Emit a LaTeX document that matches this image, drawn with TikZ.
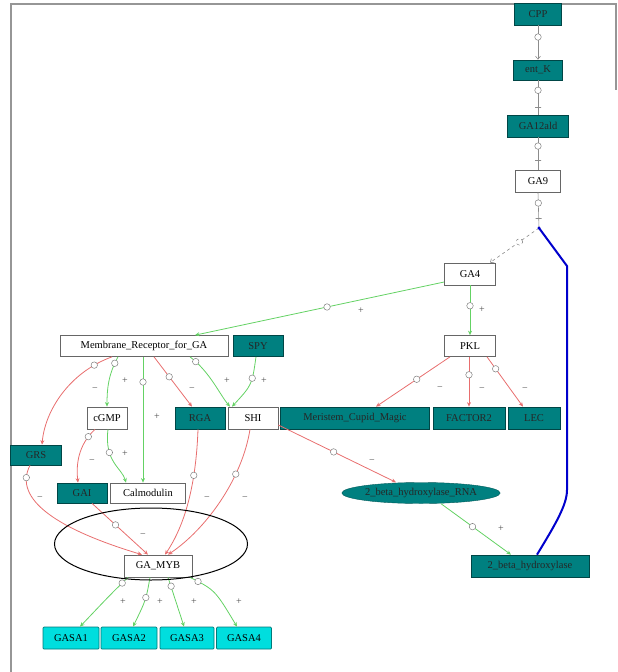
\documentclass[tikz,border=0pt]{standalone}
\usepackage{fontspec}
\setmainfont{Liberation Serif}
\usetikzlibrary{arrows.meta,shapes.geometric}
\definecolor{tealA}{RGB}{0,128,128}
\definecolor{cyA}{RGB}{0,222,222}
\definecolor{gA}{RGB}{100,210,100}
\definecolor{rA}{RGB}{232,110,110}
\definecolor{frameA}{RGB}{150,150,150}
\begin{document}
\begin{tikzpicture}[x=1pt,y=-1pt,
  box/.style={draw=black!60, line width=0.7pt, inner sep=0pt, minimum height=22pt,
    font=\fontsize{10.5}{12}\selectfont},
  wbox/.style={box, fill=white},
  tbox/.style={box, fill=tealA, draw=tealA!55!black, text=black!85},
  cbox/.style={box, fill=cyA, draw=cyA!55!black, rounded corners=1pt},
  ge/.style={draw=gA, line width=0.8pt, -{Stealth[length=4.5pt,width=4pt]}},
  re/.style={draw=rA, line width=0.8pt, -{Stealth[length=4.5pt,width=4pt]}},
  ye/.style={draw=black!45, line width=0.6pt},
  mk/.style={circle, draw=black!50, fill=white, minimum size=6.5pt, inner sep=0pt, line width=0.5pt},
  tick/.style={draw=black!45, minimum width=6pt, minimum height=0pt, inner sep=0pt, line width=0.5pt},
  sg/.style={font=\fontsize{10}{10}\selectfont, text=black!70, inner sep=0pt}]
\useasboundingbox (0,0) rectangle (618,672);
% window frame
\draw[frameA, line width=2pt] (11,672) -- (11,4) -- (616,4) -- (616,90);

% ---- nodes ----
\node[tbox, minimum width=47pt] (CPP) at (538,14) {CPP};
\node[tbox, minimum width=49pt, minimum height=20pt] (entK) at (538,70) {ent\_K};
\node[tbox, minimum width=61pt] (GA12) at (538,126) {GA12ald};
\node[wbox, minimum width=45pt] (GA9) at (538,181) {GA9};
\coordinate (J) at (539,228);
\node[wbox, minimum width=51pt] (GA4) at (470,274) {GA4};
\node[wbox, minimum width=51pt, minimum height=21pt] (PKL) at (470,346) {PKL};
\node[wbox, minimum width=168pt, minimum height=21pt] (MR) at (144,346) {Membrane\_Receptor\_for\_GA};
\node[tbox, minimum width=50pt, minimum height=21pt] (SPY) at (258,346) {SPY};
\node[wbox, minimum width=40pt] (cGMP) at (107,418) {cGMP};
\node[tbox, minimum width=50pt] (RGA) at (200,418) {RGA};
\node[wbox, minimum width=50pt] (SHI) at (253,418) {SHI};
\node[tbox, minimum width=149pt] (MCM) at (355,418) {Meristem\_Cupid\_Magic};
\node[tbox, minimum width=72pt] (FAC) at (469,418) {FACTOR2};
\node[tbox, minimum width=52pt] (LEC) at (534,418) {LEC};
\node[tbox, minimum width=51pt, minimum height=20pt] (GRS) at (36,455) {GRS};
\node[tbox, minimum width=50pt, minimum height=20pt] (GAI) at (82,493) {GAI};
\node[wbox, minimum width=75pt, minimum height=20pt] (CAL) at (148,493) {Calmodulin};
\node[ellipse, fill=tealA, draw=tealA!70!black, inner sep=0pt, minimum width=158pt, minimum height=21pt,
  text=black!85, font=\fontsize{10.5}{12}\selectfont] (RNA) at (421,493) {2\_beta\_hydroxylase\_RNA};
\node[tbox, minimum width=118pt] (B2H) at (530,566) {2\_beta\_hydroxylase};
\node[wbox, minimum width=68pt] (MYB) at (158,566) {GA\_MYB};
\node[cbox, minimum width=56pt] (S1) at (71,638) {GASA1};
\node[cbox, minimum width=56pt] (S2) at (129,638) {GASA2};
\node[cbox, minimum width=54pt] (S3) at (187,638) {GASA3};
\node[cbox, minimum width=55pt] (S4) at (244,638) {GASA4};

% ---- upper chain (gray) ----
\draw[ye, -{Straight Barb[length=3pt,width=5pt]}] (CPP.south) -- node[mk,pos=.34]{} (entK.north);
\draw[ye] (entK.south) -- node[mk,pos=.29]{} node[tick,pos=.77]{} (GA12.north);
\draw[ye] (GA12.south) -- node[mk,pos=.27]{} node[tick,pos=.7]{} (GA9.north);
\draw[ye] (GA9.south) -- node[mk,pos=.3]{} node[tick,pos=.72]{} (J);
\draw[ye, dashed, -{Straight Barb[length=3pt,width=5pt]}] (J) -- node[mk,pos=.4]{} ([xshift=20pt]GA4.north);
% blue feedback
\draw[blue!80!black, line width=2pt] ([xshift=7pt]B2H.north) .. controls (555,525) and (567,505) .. (567,490)
  -- (567,266) -- (J);
\fill[blue!80!black] (J) circle (1.6pt);

% ---- GA4 ----
\draw[ge] ([yshift=-8pt]GA4.west) -- node[mk,pos=.47]{} ([xshift=51pt]MR.north);
\node[sg] (l1) at (361,311) {+};
\draw[ge] (GA4.south) -- node[mk,pos=.41]{} (PKL.north);
\node[sg] (l2) at (482,310) {+};

% ---- PKL ----
\draw[re] ([xshift=-20pt]PKL.south) -- node[mk,pos=.45]{} ([xshift=21pt]MCM.north);
\node[sg] (l3) at (440,389) {−};
\draw[re] ([xshift=-1pt]PKL.south) -- node[mk,pos=.36]{} (FAC.north);
\node[sg] (l4) at (482,390) {−};
\draw[re] ([xshift=17pt]PKL.south) -- node[mk,pos=.24]{} ([xshift=-11pt]LEC.north);
\node[sg] (l5) at (525,390) {−};

% ---- Membrane receptor ----
\draw[re] ([xshift=-32pt]MR.south) .. controls (70,372) and (45,410) .. node[mk,pos=.15]{} ([xshift=6pt]GRS.north);
\node[sg] (l6) at (95,390) {−};
\draw[ge] ([xshift=-26pt]MR.south) .. controls (108,375) and (107,390) .. node[mk,pos=.12]{} (cGMP.north);
\node[sg] (l7) at (125,381) {+};
\draw[ge] ([xshift=-1pt]MR.south) -- node[mk,pos=.2]{} ([xshift=-5pt]CAL.north);
\node[sg] (l8) at (157,417) {+};
\draw[re] ([xshift=10pt]MR.south) -- node[mk,pos=.4]{} ([xshift=-8pt]RGA.north);
\node[sg] (l9) at (192,390) {−};
\draw[ge] ([xshift=46pt]MR.south) .. controls (210,372) and (220,395) .. node[mk,pos=.1]{} ([xshift=-23pt]SHI.north);
\node[sg] (l10) at (227,381) {+};
\draw[ge] ([xshift=-2pt]SPY.south) .. controls (252,385) .. node[mk,pos=.35]{} ([xshift=-21pt]SHI.north);
\node[sg] (l11) at (264,381) {+};

% ---- cGMP ----
\draw[re] ([xshift=-12pt]cGMP.south) .. controls (78,445) and (76,465) .. node[mk,pos=.15]{} ([xshift=-4pt]GAI.north);
\node[sg] (l12) at (92,462) {−};
\draw[ge] ([xshift=1pt]cGMP.south) .. controls (104,462) and (122,468) .. node[mk,pos=.3]{} ([xshift=-22pt]CAL.north);
\node[sg] (l13) at (125,454) {+};

% ---- RGA, SHI ----
\draw[re] ([xshift=-2pt]RGA.south) .. controls (196,485) and (185,525) .. node[mk,pos=.3]{} ([xshift=7pt]MYB.north);
\node[sg] (l14) at (207,499) {−};
\draw[re] ([xshift=-3pt]SHI.south) .. controls (242,480) and (205,530) .. node[mk,pos=.3]{} ([xshift=10pt]MYB.north);
\node[sg] (l15) at (245,499) {−};
\draw[re] ([yshift=-7pt]SHI.east) -- node[mk,pos=.47]{} ([xshift=-25pt]RNA.north);
\node[sg] (l16) at (372,462) {−};

% ---- GRS, GAI ----
\draw[re] ([xshift=-6pt]GRS.south) .. controls (12,500) and (60,530) .. node[mk,pos=.12]{} ([xshift=-16pt]MYB.north);
\node[sg] (l17) at (40,499) {−};
\draw[re] ([xshift=10pt]GAI.south) -- node[mk,pos=.42]{} ([xshift=-10pt]MYB.north);
\node[sg] (l18) at (143,536) {−};

% ---- 2 beta hydroxylase ----
\draw[ge] ([xshift=20pt]RNA.south) -- node[mk,pos=.45]{} ([xshift=-19pt]B2H.north);
\node[sg] (l19) at (501,529) {+};

% ---- GA_MYB targets ----
\draw[ge] ([xshift=-30pt]MYB.south) .. controls (110,595) .. node[mk,pos=.12]{} ([xshift=9pt]S1.north);
\node[sg] (l20) at (123,602) {+};
\draw[ge] ([xshift=-8pt]MYB.south) .. controls (146,600) .. node[mk,pos=.42]{} ([xshift=4pt]S2.north);
\node[sg] (l21) at (160,602) {+};
\draw[ge] ([xshift=10pt]MYB.south) .. controls (176,600) .. node[mk,pos=.15]{} ([xshift=-3pt]S3.north);
\node[sg] (l22) at (194,602) {+};
\draw[ge] ([xshift=32pt]MYB.south) .. controls (215,590) .. node[mk,pos=.12]{} ([xshift=-7pt]S4.north);
\node[sg] (l23) at (239,602) {+};

% ---- highlight ellipse ----
\node[ellipse, draw=black, line width=1pt, minimum width=193pt, minimum height=72pt, inner sep=0pt] (HL) at (151,544) {};
\end{tikzpicture}
\end{document}
